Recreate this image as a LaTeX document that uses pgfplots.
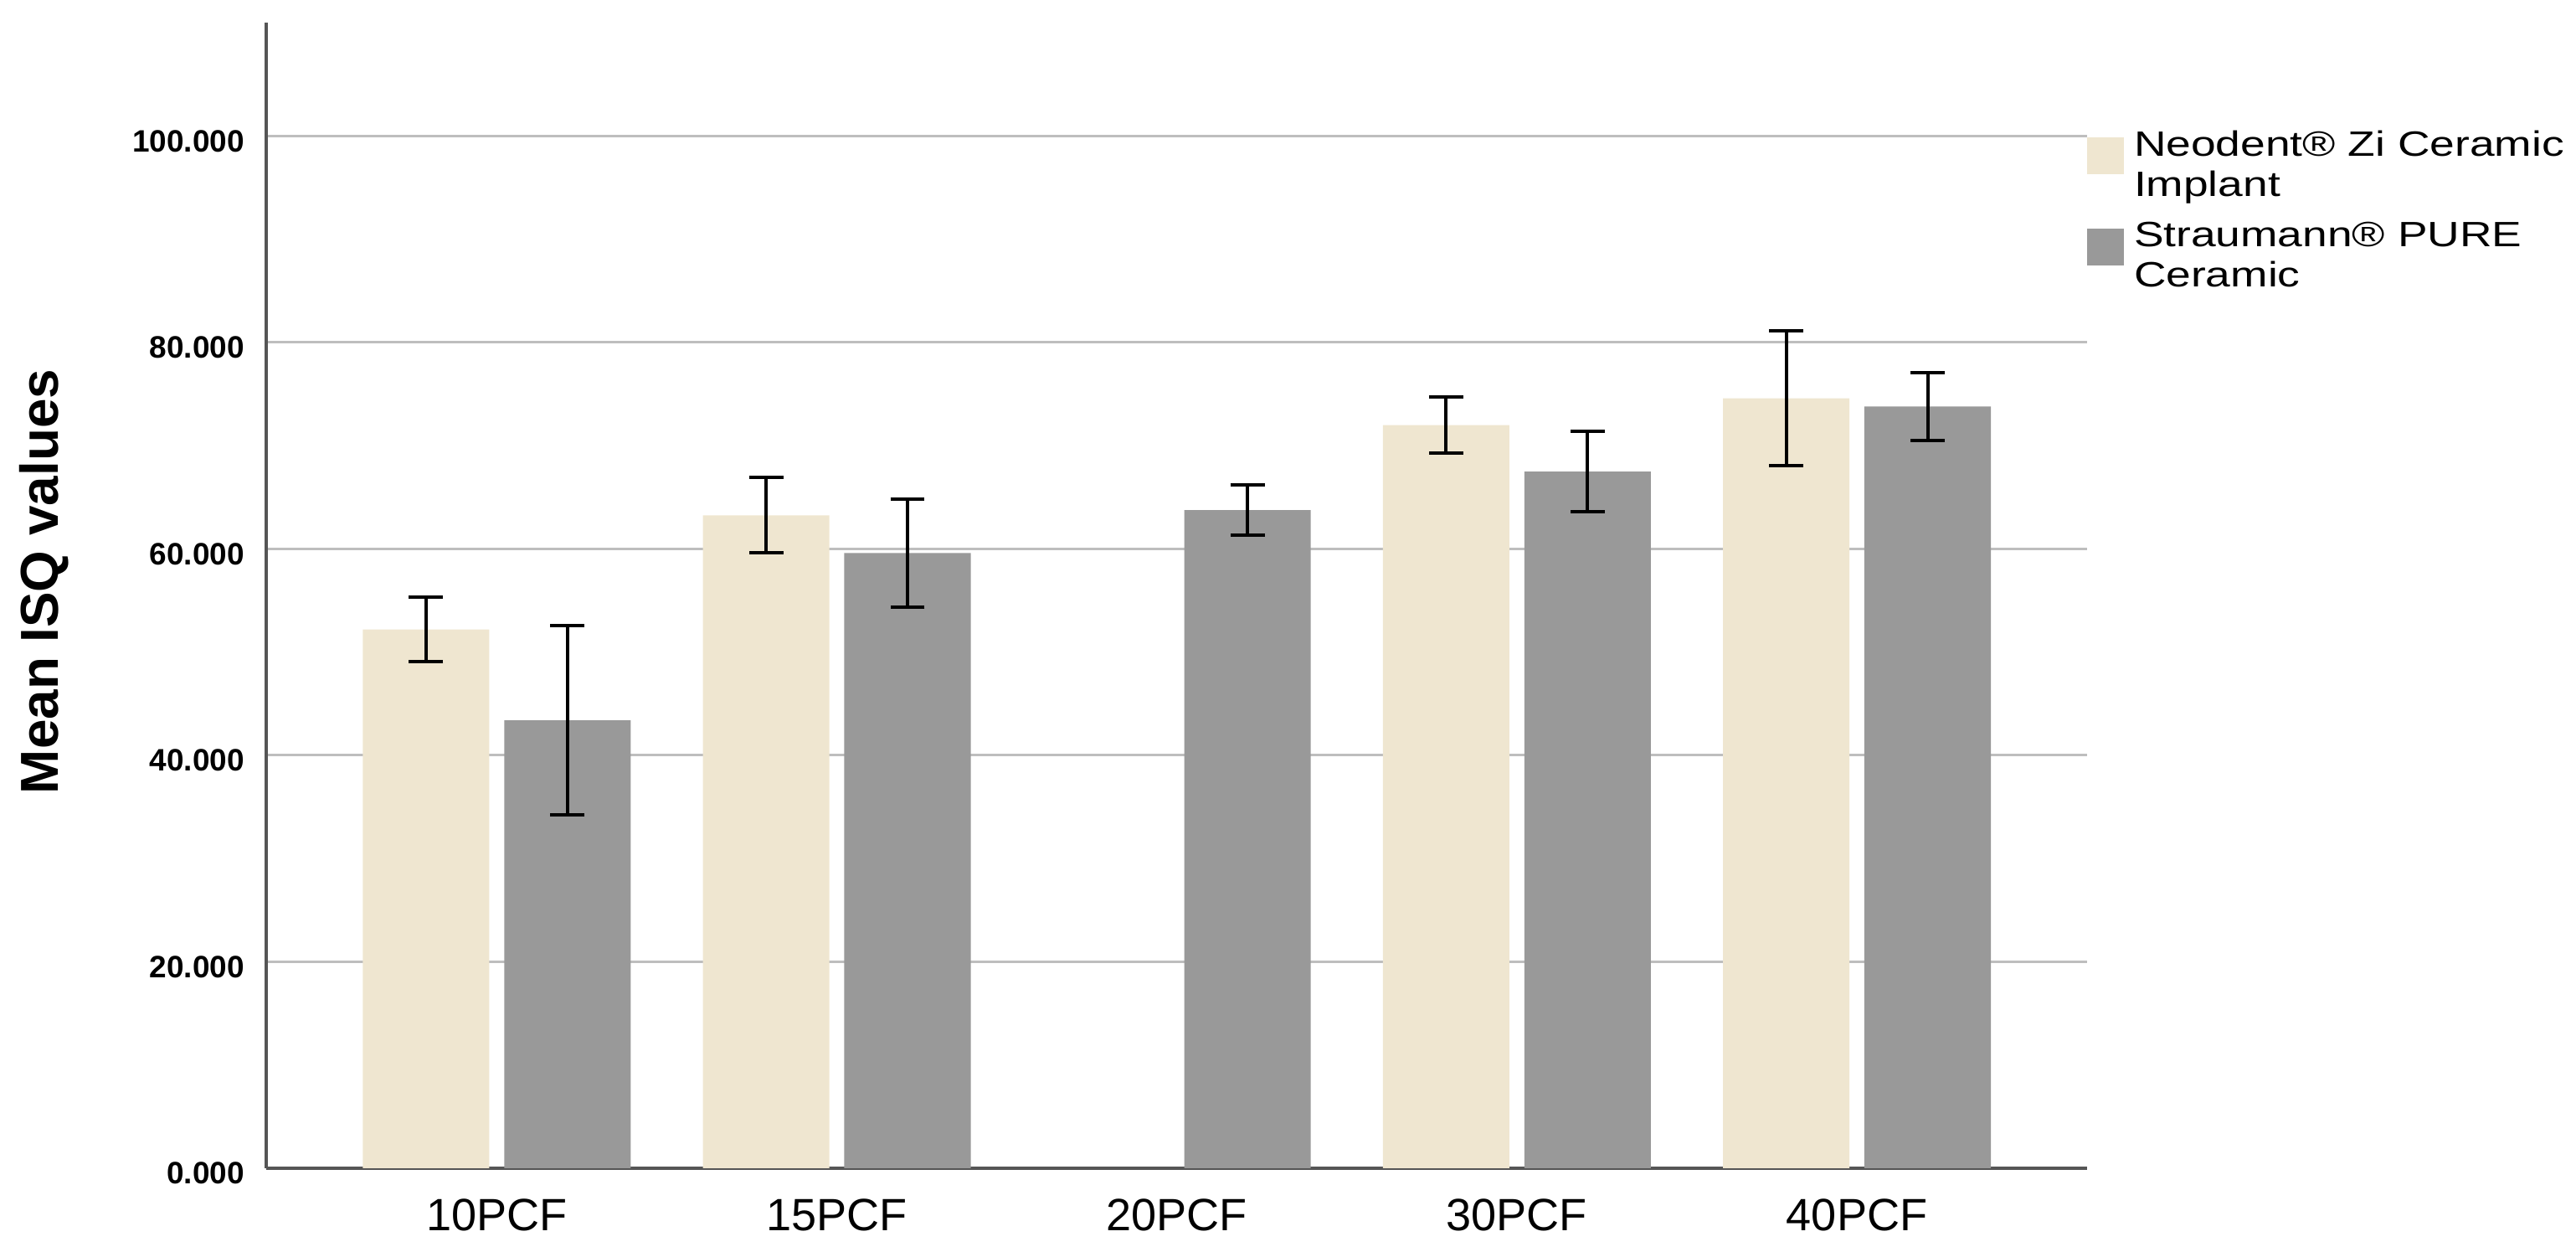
\documentclass[border=0pt]{standalone}
\usepackage{pgfplots}
\pgfplotsset{compat=1.18}
\usepackage{fontspec}
\setmainfont{Liberation Sans}
\newfontfamily\legfont[FakeStretch=1.27]{Liberation Sans}
\definecolor{neo}{RGB}{239,230,208}
\definecolor{strc}{RGB}{153,153,153}
\definecolor{gridc}{RGB}{190,190,190}
\definecolor{axc}{RGB}{85,85,85}
\begin{document}
\begin{tikzpicture}
\useasboundingbox (0,0) rectangle (20cm,9.717cm);
\begin{axis}[
  at={(2.067cm,0.65cm)}, anchor=south west,
  scale only axis, width=14.137cm, height=8.892cm,
  xmin=-0.678, xmax=4.677, ymin=0, ymax=111,
  ybar, bar width=0.372,
  axis lines=left,
  axis line style={axc, line width=0.74pt, -},
  major tick length=0pt,
  tick style={draw=none},
  xtick={0,1,2,3,4},
  xticklabels={10PCF,15PCF,20PCF,30PCF,40PCF},
  ytick={0,20,40,60,80,100},
  yticklabel={\pgfmathprintnumber[fixed,fixed zerofill,precision=3,assume math mode=true]{\tick}},
  yticklabel style={font=\bfseries\fontsize{6.84}{8}\selectfont, anchor=east, inner sep=0pt, xshift=-0.163cm, yshift=-0.04cm},
  xticklabel style={font=\fontsize{10}{12}\selectfont, anchor=north, inner sep=0pt, yshift=-0.235cm},
  ymajorgrids, grid style={gridc, line width=0.55pt},
  ylabel={Mean ISQ values},
  ylabel style={font=\bfseries\fontsize{11.8}{14}\selectfont, at={(axis description cs:-0.1220,0.512)}, anchor=center, inner sep=0pt},
  legend style={at={(axis description cs:1,0.908)}, anchor=north west, draw=none, fill=none, inner sep=0pt, outer sep=0pt, row sep=0.27cm, column sep=0.078cm, font=\legfont\fontsize{7.77}{8.88}\selectfont, nodes={inner sep=0pt, outer sep=0pt}, cells={anchor=west}},
  legend cell align=left,
  legend image code/.code={\fill[#1] (0cm,-0.143cm) rectangle (0.286cm,0.143cm);},
  error bars/error bar style={black, line width=0.74pt},
  error bars/error mark options={rotate=90, black, draw=black, line width=0.74pt, mark size=0.133cm},
]
\addplot[fill=neo, draw=none, bar shift=-0.208, error bars/.cd, y dir=both, y explicit]
  coordinates {(0,52.2) +- (0,3.15) (1,63.25) +- (0,3.65) (3,72.0) +- (0,2.7) (4,74.6) +- (0,6.5)};
\addlegendentry{\begin{tabular}{@{}l@{}}Neodent® Zi Ceramic\\Implant\end{tabular}}
\addplot[fill=strc, draw=none, bar shift=0.208, error bars/.cd, y dir=both, y explicit]
  coordinates {(0,43.4) +- (0,9.15) (1,59.6) +- (0,5.25) (2,63.75) +- (0,2.43) (3,67.5) +- (0,3.87) (4,73.8) +- (0,3.3)};
\addlegendentry{\begin{tabular}{@{}l@{}}Straumann® PURE\\Ceramic\end{tabular}}
\end{axis}
\end{tikzpicture}
\end{document}
